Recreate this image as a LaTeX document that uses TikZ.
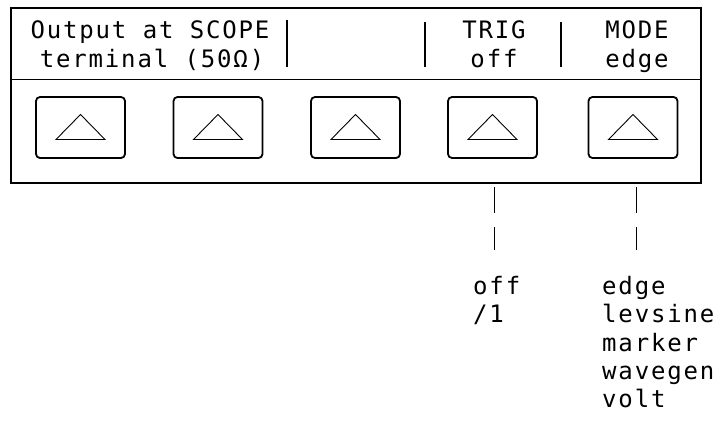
\documentclass[tikz,border=0pt]{standalone}
\usepackage{fontspec}
\newfontfamily\lcd{DejaVu Sans Mono}[LetterSpace=7.7]
\begin{document}
\begin{tikzpicture}[x=1pt,y=-1pt,
  lcdtext/.style={font=\lcd\fontsize{24}{29}\selectfont, inner sep=0pt, anchor=base},
  lcdleft/.style={lcdtext, anchor=base west},
  keybox/.style={draw, line width=1.8pt, rounded corners=4pt, minimum width=89pt, minimum height=61pt, inner sep=0pt},
  sepbar/.style={line width=2pt},
  leader/.style={line width=0.9pt}]
\useasboundingbox (0,0) rectangle (715,423);
% outer panel
\draw[line width=1.4pt] (11,8) rectangle (701,183);
\draw[line width=1pt] (11,79) -- (701,79);
% labels
\node[lcdtext] (out1) at (150,38) {Output at SCOPE};
\node[lcdtext] (out2) at (152,67) {terminal (50Ω)};
\node[lcdtext] (trig1) at (494,38) {TRIG};
\node[lcdtext] (trig2) at (494,67) {off};
\node[lcdtext] (mode1) at (637,38) {MODE};
\node[lcdtext] (mode2) at (637,67) {edge};
\draw[sepbar] (287,20) -- (287,67);
\draw[sepbar] (425,22) -- (425,67);
\draw[sepbar] (561,22) -- (561,67);
% keys
\foreach \n/\x in {1/80.5,2/218,3/355.5,4/492.5,5/633}{
  \node[keybox] (k\n) at (\x,127.5) {};
  \draw[line width=0.9pt] ([shift={(-24.5,12)}]k\n.center) -- ([shift={(24.5,12)}]k\n.center) -- ([shift={(0,-13)}]k\n.center) -- cycle;
}
% leaders
\coordinate (ta) at (494,187); \coordinate (tb) at (494,213);
\coordinate (tc) at (494,227); \coordinate (td) at (494,250);
\coordinate (ma) at (636,187); \coordinate (mb) at (636,213);
\coordinate (mc) at (636,227); \coordinate (md) at (636,250);
\draw[leader] (ta) -- (tb); \draw[leader] (tc) -- (td);
\draw[leader] (ma) -- (mb); \draw[leader] (mc) -- (md);
% option lists
\node[lcdleft] (toff) at (473,294) {off};
\node[lcdleft] (tone) at (473,322) {/1};
\node[lcdleft] (medge) at (602,294) {edge};
\node[lcdleft] (mlev) at (602,322) {levsine};
\node[lcdleft] (mmark) at (602,351) {marker};
\node[lcdleft] (mwave) at (602,379) {wavegen};
\node[lcdleft] (mvolt) at (602,407) {volt};
\end{tikzpicture}
\end{document}
